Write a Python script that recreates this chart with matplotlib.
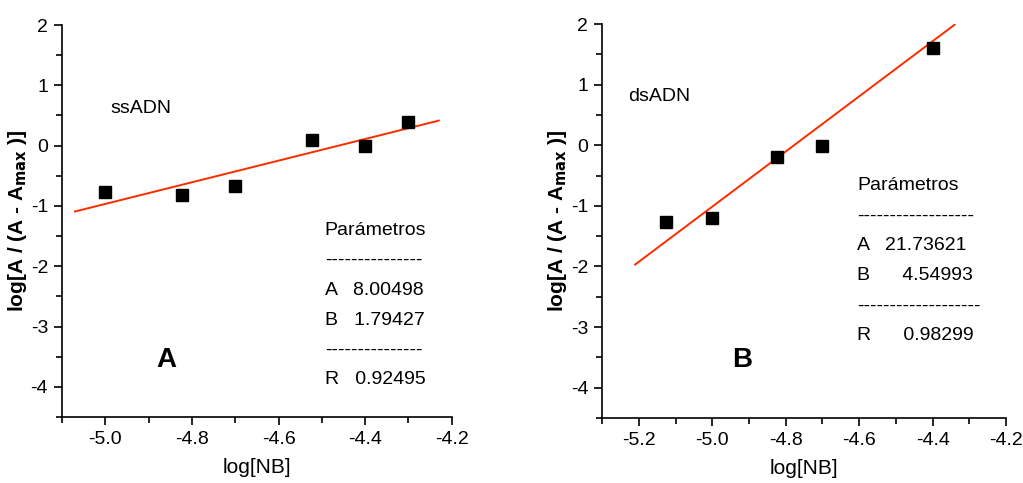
import matplotlib
matplotlib.use("Agg")
import matplotlib.pyplot as plt
import numpy as np
from matplotlib.ticker import MultipleLocator, FormatStrFormatter

plt.rcParams['font.family'] = ['Liberation Sans', 'DejaVu Sans']
plt.rcParams['axes.unicode_minus'] = False

# Panel A: single-stranded DNA
x_ss = [-5.0, -4.824, -4.70, -4.523, -4.40, -4.30]
y_ss = [-0.77, -0.82, -0.67, 0.09, -0.01, 0.39]
fit_ss = {"A": 8.00498, "B": 1.79427, "R": 0.92495}
fit_ss_range = [-5.07, -4.23]

# Panel B: double-stranded DNA
x_ds = [-5.125, -5.0, -4.825, -4.70, -4.398]
y_ds = [-1.26, -1.20, -0.20, -0.01, 1.60]
fit_ds = {"A": 21.73621, "B": 4.54993, "R": 0.98299}
fit_ds_range = [-5.21, -4.34]

ylabel = r"log[A / (A - A$_{\mathbf{max}}$ )]"
xlabel = "log[NB]"

fig = plt.figure(figsize=(10.23, 4.83), dpi=100)
axA = fig.add_axes([0.0606, 0.1366, 0.381, 0.8116])
axB = fig.add_axes([0.5885, 0.1346, 0.395, 0.8157])


def style(ax, xlim):
    ax.set_xlim(*xlim)
    ax.set_ylim(-4.5, 2)
    for s in ("top", "right"):
        ax.spines[s].set_visible(False)
    for s in ("left", "bottom"):
        ax.spines[s].set_linewidth(1.2)
    ax.xaxis.set_major_locator(MultipleLocator(0.2))
    ax.xaxis.set_minor_locator(MultipleLocator(0.1))
    ax.yaxis.set_major_locator(MultipleLocator(1))
    ax.yaxis.set_minor_locator(MultipleLocator(0.5))
    ax.xaxis.set_major_formatter(FormatStrFormatter('%.1f'))
    ax.yaxis.set_major_formatter(FormatStrFormatter('%d'))
    ax.tick_params(which='major', direction='out', length=6, width=1.2, labelsize=14, pad=4)
    ax.tick_params(which='minor', direction='out', length=4, width=1.2)
    ax.set_xlabel(xlabel, fontsize=15, labelpad=7)
    ax.set_ylabel(ylabel, fontsize=15, fontweight='bold', labelpad=1)


def panel(ax, x, y, fit, frange, xlim, name, letter, name_pos, par_pos, line_gap, dash1, dash2, letter_pos, a_fmt, b_fmt, r_fmt):
    style(ax, xlim)
    xs = np.array(frange)
    ax.plot(xs, fit["A"] + fit["B"] * xs, color='#ff2a00', lw=1.4, zorder=2)
    ax.plot(x, y, ls='none', marker='s', ms=9, color='black', zorder=3)
    ax.text(*name_pos, name, transform=ax.transAxes, fontsize=14, va='center', ha='left')
    px, py = par_pos
    rows = ["Parámetros", dash1, a_fmt.format(fit["A"]), b_fmt.format(fit["B"]), dash2, r_fmt.format(fit["R"])]
    for i, t in enumerate(rows):
        ax.text(px, py - i * line_gap, t, transform=ax.transAxes, fontsize=14, va='center', ha='left')
    ax.text(*letter_pos, letter, transform=ax.transAxes, fontsize=20, fontweight='bold',
            va='center', ha='center')


panel(axA, x_ss, y_ss, fit_ss, fit_ss_range, (-5.1, -4.2), "ssADN", "A",
      (0.123, 0.788), (0.674, 0.477), 0.0765,
      "---------------", "---------------", (0.267, 0.145),
      "A   {:.5f}", "B   {:.5f}", "R   {:.5f}")
panel(axB, x_ds, y_ds, fit_ds, fit_ds_range, (-5.3, -4.2), "dsADN", "B",
      (0.064, 0.815), (0.631, 0.589), 0.0761,
      "------------------", "-------------------", (0.347, 0.147),
      "A   {:.5f}", "B      {:.5f}", "R      {:.5f}")

fig.savefig("out.png", dpi=100, facecolor='white')
